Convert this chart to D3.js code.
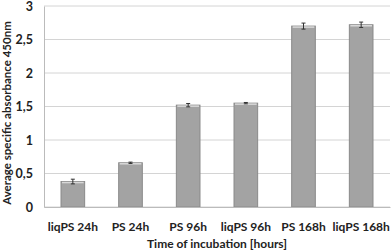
<!DOCTYPE html>
<html>
<head>
<meta charset="utf-8">
<script src="https://cdn.jsdelivr.net/npm/d3@7"></script>
<style>
  body { margin: 0; background: #fff; }
  text { font-family: Lato, "Open Sans", sans-serif; font-weight: bold; fill: #222; }
</style>
</head>
<body>
<div id="chart"></div>
<script>
let categories = ["liqPS 24h", "PS 24h", "PS 96h", "liqPS 96h", "PS 168h", "liqPS 168h"]
let values = [0.38, 0.66, 1.52, 1.55, 2.70, 2.72]
let errors = [0.035, 0.01, 0.025, 0.01, 0.045, 0.04]
let yTicks = [0, 0.5, 1, 1.5, 2, 2.5, 3]

let margin = {top: 6, right: 2, bottom: 43, left: 44}
let width = 392 - margin.left - margin.right
let height = 250 - margin.top - margin.bottom

let svg = d3.select("#chart")
    .append("svg")
    .attr("width", 392)
    .attr("height", 250)
    .append("g")
    .attr("transform", "translate(" + margin.left + "," + margin.top + ")");

let xScale = d3.scaleBand()
    .domain(categories)
    .range([0, width])
    .paddingInner(0.59)
    .paddingOuter(0.295)

let yScale = d3.scaleLinear()
    .domain([0, 3])
    .range([height, 0])

// gridlines
svg.append("g")
    .selectAll("line")
    .data(yTicks)
    .join("line")
    .attr("x1", 0)
    .attr("x2", width)
    .attr("y1", d => yScale(d))
    .attr("y2", d => yScale(d))
    .attr("stroke", "#d4d4d4")
    .attr("stroke-width", 1)

// y axis
let yAxis = svg.append("g")
    .call(d3.axisLeft(yScale).tickValues(yTicks).tickSize(0).tickPadding(11)
        .tickFormat(d => String(d).replace(".", ",")))
yAxis.select(".domain").attr("stroke", "#bbb")
yAxis.selectAll("text").style("font-size", "12.5px").attr("fill", "#222")

// bars
svg.append("g")
    .selectAll("rect")
    .data(values)
    .join("rect")
    .attr("x", (d, i) => xScale(categories[i]))
    .attr("y", d => yScale(d))
    .attr("width", xScale.bandwidth())
    .attr("height", d => height - yScale(d))
    .attr("fill", "#a3a3a3")
    .attr("stroke", "#8a8a8a")
    .attr("stroke-width", 1)

// light top edge
svg.append("g")
    .selectAll("line")
    .data(values)
    .join("line")
    .attr("x1", (d, i) => xScale(categories[i]) + 1)
    .attr("x2", (d, i) => xScale(categories[i]) + xScale.bandwidth() - 1)
    .attr("y1", d => yScale(d) + 1)
    .attr("y2", d => yScale(d) + 1)
    .attr("stroke", "#d8d8d8")
    .attr("stroke-width", 1.5)

// error bars
let err = svg.append("g").attr("stroke", "#333").attr("stroke-width", 1)
values.forEach((v, i) => {
    let cx = xScale(categories[i]) + xScale.bandwidth() / 2
    err.append("line")
        .attr("x1", cx).attr("x2", cx)
        .attr("y1", yScale(v + errors[i])).attr("y2", yScale(v - errors[i]))
    err.append("line")
        .attr("x1", cx - 2).attr("x2", cx + 2)
        .attr("y1", yScale(v + errors[i])).attr("y2", yScale(v + errors[i]))
    err.append("line")
        .attr("x1", cx - 2).attr("x2", cx + 2)
        .attr("y1", yScale(v - errors[i])).attr("y2", yScale(v - errors[i]))
})

// x axis
let xAxis = svg.append("g")
    .attr("transform", "translate(0," + height + ")")
    .call(d3.axisBottom(xScale).tickSize(0).tickPadding(15))
xAxis.select(".domain").attr("stroke", "#bbb")
xAxis.selectAll("text").style("font-size", "12px").attr("fill", "#222")

svg.append("text")
    .attr("x", width / 2)
    .attr("y", height + 41)
    .attr("text-anchor", "middle")
    .style("font-size", "12px")
    .text("Time of incubation [hours]");

svg.append("text")
    .attr("transform", "rotate(-90)")
    .attr("x", -107)
    .attr("y", -33)
    .attr("text-anchor", "middle")
    .style("font-size", "11.5px")
    .text("Average specific absorbance 450nm");
</script>
</body>
</html>
